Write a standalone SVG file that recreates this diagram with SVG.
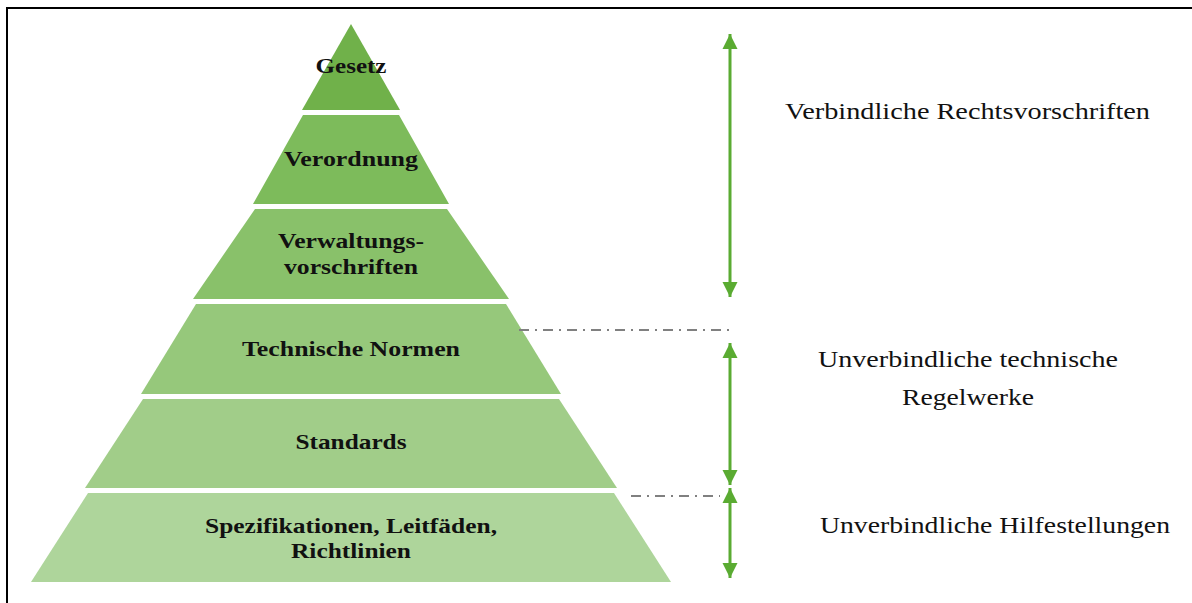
<svg xmlns="http://www.w3.org/2000/svg" width="1192" height="603" viewBox="0 0 1192 603">
<style>
.lbl{font-family:"Liberation Serif","Times New Roman",serif;font-weight:bold;font-size:22px;fill:#111;text-anchor:middle}
.side{font-family:"Liberation Serif","Times New Roman",serif;font-size:24px;fill:#111}
.dd{stroke:#808080;stroke-width:2;fill:none;stroke-dasharray:10,6,2,6}
.arr{stroke:#5aab32;stroke-width:3;fill:none}
</style>
<defs>
<marker id="ah" viewBox="0 0 10 10" refX="10" refY="5" markerWidth="5" markerHeight="5.5" orient="auto-start-reverse" markerUnits="strokeWidth">
<path d="M0,0 L10,5 L0,10 z" fill="#5aab32"/>
</marker>
</defs>
<rect x="0" y="0" width="1192" height="603" fill="#fff"/>
<path d="M7,603 L7,8 L1192,8" stroke="#000" stroke-width="2" fill="none"/>
<g id="gesetz"><polygon points="351,24 400,110 302,110" fill="#70b14a"/><text class="lbl" x="351" y="73" textLength="71" lengthAdjust="spacingAndGlyphs">Gesetz</text></g>
<g id="verordnung"><polygon points="303,115 399,115 449,204 253,204" fill="#7dbb5b"/><text class="lbl" x="351" y="166" textLength="134" lengthAdjust="spacingAndGlyphs">Verordnung</text></g>
<g id="verwaltung"><polygon points="255,209 447,209 509,299 193,299" fill="#89c16a"/><text class="lbl" x="351" y="248" textLength="146" lengthAdjust="spacingAndGlyphs">Verwaltungs-</text><text class="lbl" x="351" y="274" textLength="134" lengthAdjust="spacingAndGlyphs">vorschriften</text></g>
<g id="technische"><polygon points="196,304 506,304 561,394 141,394" fill="#96c87b"/><text class="lbl" x="351" y="356" textLength="218" lengthAdjust="spacingAndGlyphs">Technische Normen</text></g>
<g id="standards"><polygon points="143,399 559,399 617,488 85,488" fill="#a1cd89"/><text class="lbl" x="351" y="449" textLength="111" lengthAdjust="spacingAndGlyphs">Standards</text></g>
<g id="spezifikationen"><polygon points="88,493 614,493 671,582 31,582" fill="#aed59b"/><text class="lbl" x="351" y="533" textLength="292" lengthAdjust="spacingAndGlyphs">Spezifikationen, Leitfäden,</text><text class="lbl" x="351" y="558" textLength="120" lengthAdjust="spacingAndGlyphs">Richtlinien</text></g>
<g id="connectors">
<line class="arr" x1="730" y1="34" x2="730" y2="297" marker-start="url(#ah)" marker-end="url(#ah)"/>
<line class="arr" x1="730" y1="343" x2="730" y2="485" marker-start="url(#ah)" marker-end="url(#ah)"/>
<line class="arr" x1="730" y1="488" x2="730" y2="578" marker-start="url(#ah)" marker-end="url(#ah)"/>
<line class="dd" x1="519" y1="330" x2="733" y2="330"/>
<line class="dd" x1="631" y1="496" x2="720" y2="496"/>
</g>
<g id="labels">
<text class="side" x="785" y="119" textLength="365" lengthAdjust="spacingAndGlyphs">Verbindliche Rechtsvorschriften</text>
<text class="side" x="818" y="367" textLength="300" lengthAdjust="spacingAndGlyphs">Unverbindliche technische</text>
<text class="side" x="902" y="405" textLength="132" lengthAdjust="spacingAndGlyphs">Regelwerke</text>
<text class="side" x="820" y="533" textLength="350" lengthAdjust="spacingAndGlyphs">Unverbindliche Hilfestellungen</text>
</g>
</svg>
